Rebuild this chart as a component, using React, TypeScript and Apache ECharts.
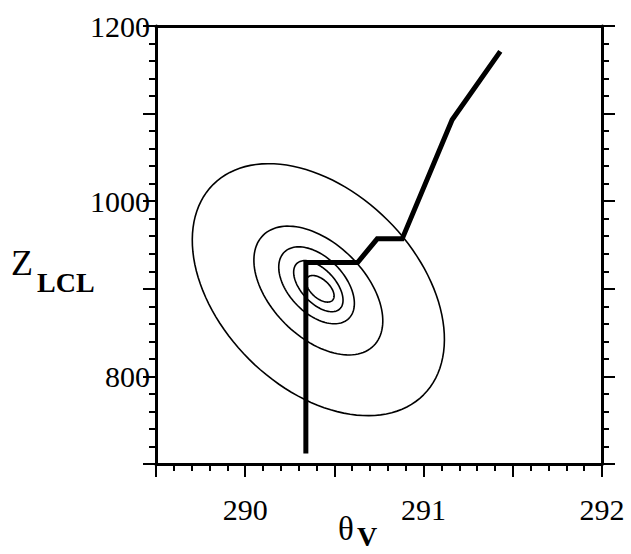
import React, { useEffect, useRef } from "react";
import * as echarts from "echarts";

// Thick trajectory line (theta_v, z_LCL)
const pathTheta = [290.34, 290.34, 290.63, 290.74, 290.88, 291.16, 291.43];
const pathZ = [712, 930, 930, 957, 957, 1093, 1171];

// Contour ellipses:
// centre (theta_v, z_LCL), end of the major semi-axis (theta_v, z_LCL), minor/major ratio
const contourCenterTheta = [290.41, 290.41, 290.4, 290.41, 290.42];
const contourCenterZ = [899, 898, 904, 903, 900];
const contourAxisEndTheta = [291.0, 290.72, 290.58, 290.53, 290.49];
const contourAxisEndZ = [779, 835, 866, 877, 887];
const contourRatio = [0.66, 0.6, 0.6, 0.54, 0.55];

const xTickLabels = [290, 291, 292];
const yTickLabels = [800, 1000, 1200];

const FONT = "'Liberation Serif', 'Times New Roman', serif";

export default function App() {
  const ref = useRef<HTMLDivElement>(null);
  useEffect(() => {
    if (!ref.current) return;
    const chart = echarts.init(ref.current, undefined, { renderer: "svg" });
    const tickStyle = { color: "#000", width: 2 };
    const contourData = contourCenterTheta.map((t, i) => [
      t,
      contourCenterZ[i],
      contourAxisEndTheta[i],
      contourAxisEndZ[i],
      contourRatio[i],
    ]);
    chart.setOption({
      animation: false,
      backgroundColor: "#fff",
      grid: { left: 156, right: 29, top: 26, bottom: 90, containLabel: false },
      xAxis: [
        {
          type: "value",
          position: "bottom",
          min: 289.5,
          max: 292,
          interval: 0.5,
          axisLine: { show: true, onZero: false, lineStyle: { color: "#000", width: 3 } },
          axisTick: { show: true, inside: false, length: 13, lineStyle: tickStyle },
          minorTick: { show: true, splitNumber: 5, length: 7, lineStyle: tickStyle },
          splitLine: { show: false },
          minorSplitLine: { show: false },
          axisLabel: {
            show: true,
            showMinLabel: true,
            showMaxLabel: true,
            margin: 30,
            color: "#000",
            fontFamily: FONT,
            fontSize: 30,
            formatter: (v: number) =>
              xTickLabels.includes(Math.round(v * 10) / 10) ? String(Math.round(v)) : "",
          },
        },
        {
          type: "value",
          position: "top",
          min: 289.5,
          max: 292,
          interval: 0.5,
          axisLine: { show: true, onZero: false, lineStyle: { color: "#000", width: 3 } },
          axisTick: { show: false },
          axisLabel: { show: false },
          splitLine: { show: false },
        },
      ],
      yAxis: [
        {
          type: "value",
          position: "left",
          min: 700,
          max: 1200,
          interval: 100,
          axisLine: { show: true, onZero: false, lineStyle: { color: "#000", width: 3 } },
          axisTick: { show: true, inside: false, length: 13, lineStyle: tickStyle },
          minorTick: { show: true, splitNumber: 5, length: 7, lineStyle: tickStyle },
          splitLine: { show: false },
          minorSplitLine: { show: false },
          axisLabel: {
            show: true,
            showMinLabel: true,
            showMaxLabel: true,
            margin: 6,
            color: "#000",
            fontFamily: FONT,
            fontSize: 30,
            formatter: (v: number) => (yTickLabels.includes(Math.round(v)) ? String(Math.round(v)) : ""),
          },
        },
        {
          type: "value",
          position: "right",
          min: 700,
          max: 1200,
          interval: 100,
          axisLine: { show: true, onZero: false, lineStyle: { color: "#000", width: 3 } },
          axisTick: { show: true, inside: false, length: 13, lineStyle: tickStyle },
          minorTick: { show: true, splitNumber: 5, length: 7, lineStyle: tickStyle },
          splitLine: { show: false },
          minorSplitLine: { show: false },
          axisLabel: { show: false },
        },
      ],
      series: [
        {
          type: "custom",
          coordinateSystem: "cartesian2d",
          silent: true,
          encode: { x: 0, y: 1 },
          data: contourData,
          renderItem: (_p: any, api: any) => {
            const c = api.coord([api.value(0), api.value(1)]);
            const m = api.coord([api.value(2), api.value(3)]);
            const ratio = api.value(4);
            const dx = m[0] - c[0];
            const dy = m[1] - c[1];
            const a = Math.hypot(dx, dy);
            const ux = dx / a;
            const uy = dy / a;
            const b = a * ratio;
            const pts: number[][] = [];
            const n = 120;
            for (let k = 0; k < n; k++) {
              const t = (k / n) * Math.PI * 2;
              const ca = a * Math.cos(t);
              const sb = b * Math.sin(t);
              pts.push([c[0] + ca * ux - sb * uy, c[1] + ca * uy + sb * ux]);
            }
            return {
              type: "polygon",
              shape: { points: pts },
              style: { fill: "none", stroke: "#000", lineWidth: 1.6 },
            };
          },
        },
        {
          type: "line",
          data: pathTheta.map((t, i) => [t, pathZ[i]]),
          symbol: "none",
          silent: true,
          lineStyle: { color: "#000", width: 5, join: "miter" },
        },
      ],
      graphic: [
        {
          type: "text",
          left: 11,
          top: 245,
          style: { text: "Z", font: `36px ${FONT}`, fill: "#000" },
        },
        {
          type: "text",
          left: 37,
          top: 268,
          style: { text: "LCL", font: `bold 28px ${FONT}`, fill: "#000" },
        },
        {
          type: "text",
          left: 338,
          top: 512,
          style: { text: "θ", font: `33px ${FONT}`, fill: "#000" },
        },
        {
          type: "text",
          left: 357,
          top: 522,
          style: { text: "V", font: `bold 28px ${FONT}`, fill: "#000" },
        },
      ],
    });
    return () => chart.dispose();
  }, []);
  return (
    <div
      ref={ref}
      style={{ position: "fixed", left: 0, top: 0, width: 631, height: 554, background: "#fff" }}
    />
  );
}
